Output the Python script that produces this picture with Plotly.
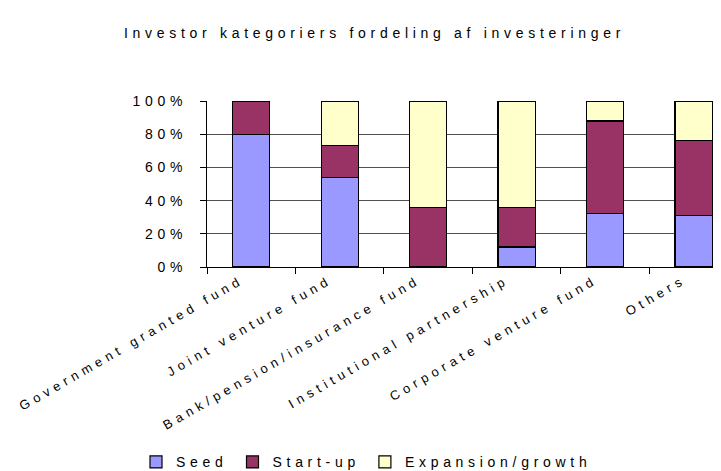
import plotly.graph_objects as go

categories = [
    "Government granted fund",
    "Joint venture fund",
    "Bank/pension/insurance fund",
    "Institutional partnership",
    "Corporate venture fund",
    "Others",
]
seed = [80, 54, 0, 12, 32, 31]
start_up = [20, 19, 36, 24, 56, 45]
expansion = [0, 27, 64, 64, 12, 24]

series_names = ["Seed", "Start-up", "Expansion/growth"]
series_colors = ["#9999FF", "#993366", "#FFFFCC"]
y_tickvals = [0, 20, 40, 60, 80, 100]
y_ticktext = ["0%", "20%", "40%", "60%", "80%", "100%"]

FONT = "Liberation Sans, Arial, sans-serif"

fig = go.Figure()
for name, vals, col in zip(series_names, [seed, start_up, expansion], series_colors):
    fig.add_trace(go.Bar(
        x=categories, y=vals, name=name, width=0.42,
        marker=dict(color=col, line=dict(color="black", width=1.2)),
    ))

W, H = 721, 471
L, R, T, B = 199, 0, 93, 208

fig.update_layout(
    width=W, height=H,
    barmode="stack",
    paper_bgcolor="white", plot_bgcolor="white",
    margin=dict(l=L, r=R, t=T, b=B, pad=0),
    font=dict(family=FONT, size=14, color="black"),
    title=dict(
        text="Investor kategoriers fordeling af investeringer",
        x=366.5 / W, xref="container", xanchor="center",
        y=1 - 25 / H, yref="container", yanchor="middle",
        font=dict(family=FONT, size=14, color="black"),
    ),
    showlegend=True,
    legend=dict(
        orientation="h", traceorder="normal",
        x=(128 - L) / (W - L - R), xanchor="left",
        y=(263 - 463) / (263 - 93), yanchor="middle",
        font=dict(family=FONT, size=14, color="black"),
        itemwidth=30, bgcolor="rgba(0,0,0,0)",
    ),
    xaxis=dict(
        range=[-0.5, 5.4], showgrid=False, tickangle=-30,
        tickson="boundaries", ticks="outside", ticklen=6, tickcolor="black",
        showline=True, linecolor="black", linewidth=1,
        ticklabelshift=-10,
        tickfont=dict(family=FONT, size=13, color="black"),
    ),
    yaxis=dict(
        range=[0, 100], tickvals=y_tickvals, ticktext=y_ticktext,
        showgrid=True, gridcolor="#505050", gridwidth=1,
        ticks="outside", ticklen=6, tickcolor="black",
        showline=True, linecolor="black", linewidth=1,
        zeroline=False, ticklabelstandoff=10,
        tickfont=dict(family=FONT, size=14, color="black"),
    ),
)

post = """
var gd = document.getElementById('{plot_id}');
var s = document.createElement('style');
s.textContent = 'svg text { letter-spacing: 4.7px; }';
document.head.appendChild(s);
var A = 'Liberation Sans, Arial, sans-serif';
var B2 = 'Liberation Sans, Arial, Helvetica, sans-serif';
var d = JSON.parse(JSON.stringify(gd.data).split(A).join(B2));
var l = JSON.parse(JSON.stringify(gd.layout).split(A).join(B2));
var c = gd._context;
Plotly.purge(gd);
Plotly.newPlot(gd, d, l, c);
"""

fig.write_html("out.html", post_script=post)
